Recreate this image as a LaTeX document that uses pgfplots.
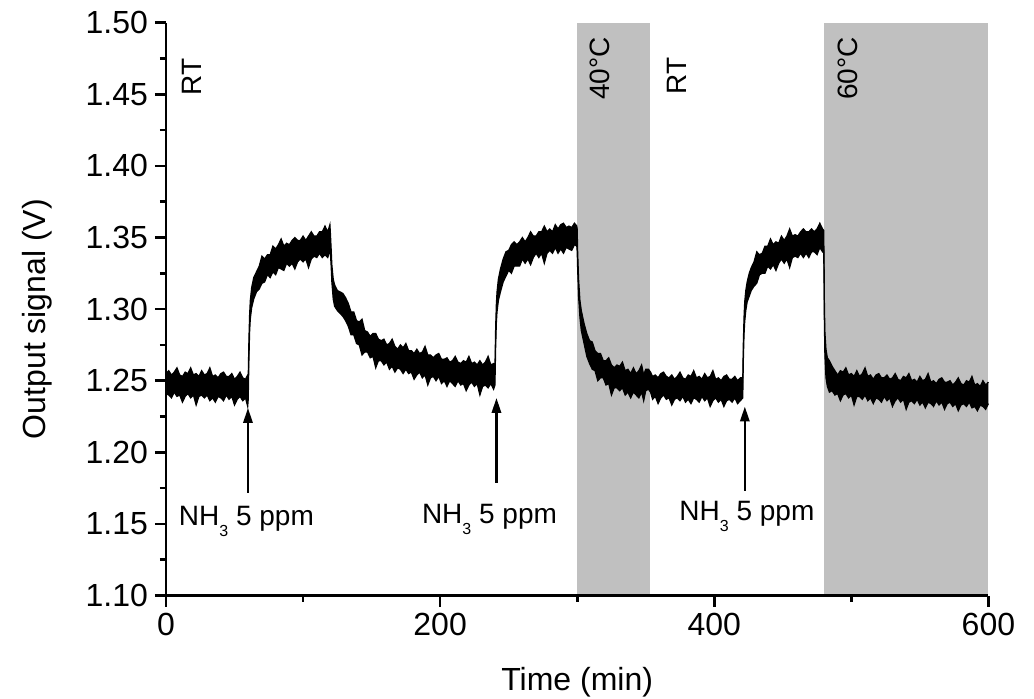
\documentclass[border=0pt]{standalone}
\usepackage{fontspec}
\setmainfont{Liberation Sans}
\usepackage{pgfplots}
\pgfplotsset{compat=1.18}
\usepackage{pgfplotstable}
\usepgfplotslibrary{fillbetween}
\usetikzlibrary{arrows.meta}
\definecolor{shade}{RGB}{192,192,192}
\pgfplotstableread{
t u l
0 1.255 1.241
2 1.257 1.240
4 1.254 1.238
6 1.256 1.242
8 1.259 1.239
10 1.254 1.240
12 1.253 1.235
14 1.256 1.239
16 1.255 1.241
18 1.259 1.238
20 1.254 1.240
22 1.255 1.233
24 1.253 1.239
26 1.257 1.240
28 1.254 1.238
30 1.255 1.240
32 1.259 1.236
34 1.253 1.238
36 1.254 1.235
38 1.252 1.239
40 1.255 1.238
42 1.256 1.236
44 1.253 1.240
46 1.253 1.237
48 1.255 1.239
50 1.251 1.233
52 1.253 1.237
54 1.256 1.239
56 1.252 1.236
58 1.251 1.238
59.6 1.254 1.232
60.0 1.253 1.237
60.5 1.279 1.265
61 1.296 1.284
61.5 1.306 1.293
62.5 1.315 1.301
64 1.322 1.307
66 1.326 1.312
68 1.330 1.314
70 1.337 1.318
72 1.335 1.319
74 1.338 1.324
76 1.338 1.322
78 1.344 1.326
80 1.342 1.324
82 1.345 1.329
84 1.349 1.328
86 1.344 1.327
88 1.346 1.332
90 1.345 1.330
92 1.348 1.332
94 1.350 1.328
96 1.348 1.333
98 1.348 1.335
100 1.351 1.333
102 1.348 1.335
104 1.351 1.329
106 1.354 1.335
108 1.351 1.337
110 1.351 1.336
112 1.354 1.339
114 1.354 1.336
116 1.358 1.338
118 1.354 1.336
119.6 1.359 1.341
120.0 1.352 1.338
120.5 1.342 1.330
121 1.331 1.319
122 1.321 1.307
123 1.317 1.302
125 1.313 1.299
127 1.312 1.297
129 1.311 1.295
131 1.308 1.292
133 1.304 1.288
135 1.298 1.282
137 1.298 1.282
139 1.292 1.276
141 1.291 1.275
143 1.293 1.268
145 1.285 1.270
147 1.284 1.270
149 1.281 1.266
151 1.283 1.267
153 1.283 1.259
155 1.279 1.264
157 1.278 1.264
159 1.279 1.261
161 1.275 1.263
163 1.276 1.258
165 1.279 1.260
167 1.274 1.256
169 1.272 1.259
171 1.275 1.258
173 1.273 1.255
175 1.276 1.258
177 1.271 1.255
179 1.271 1.256
181 1.269 1.251
183 1.272 1.254
185 1.269 1.256
187 1.270 1.252
189 1.274 1.254
191 1.268 1.247
193 1.268 1.252
195 1.266 1.253
197 1.268 1.250
199 1.269 1.253
201 1.265 1.248
203 1.265 1.250
205 1.266 1.246
207 1.263 1.250
209 1.264 1.248
211 1.267 1.246
213 1.263 1.250
215 1.262 1.247
217 1.264 1.248
219 1.263 1.243
221 1.267 1.247
223 1.262 1.249
225 1.263 1.246
227 1.261 1.248
229 1.264 1.240
231 1.261 1.246
233 1.263 1.247
235 1.267 1.245
237 1.261 1.248
239 1.262 1.244
239.7 1.261 1.246
240.0 1.260 1.247
240.5 1.287 1.273
241 1.303 1.290
241.5 1.312 1.298
242.5 1.321 1.306
244 1.328 1.312
246 1.335 1.319
248 1.340 1.323
250 1.341 1.327
252 1.345 1.325
254 1.347 1.330
256 1.345 1.330
258 1.347 1.330
260 1.350 1.335
262 1.347 1.332
264 1.350 1.335
266 1.354 1.331
268 1.351 1.336
270 1.351 1.339
272 1.354 1.336
274 1.354 1.339
276 1.358 1.332
278 1.354 1.339
280 1.356 1.341
282 1.354 1.339
284 1.359 1.343
286 1.356 1.339
288 1.359 1.342
290 1.360 1.339
292 1.357 1.343
294 1.358 1.342
296 1.357 1.341
298 1.360 1.345
299.7 1.358 1.344
300.0 1.356 1.340
300.3 1.341 1.329
301 1.321 1.309
302 1.306 1.294
303 1.299 1.285
305 1.290 1.276
307 1.283 1.267
309 1.278 1.262
311 1.277 1.258
313 1.271 1.257
315 1.269 1.250
317 1.269 1.252
319 1.264 1.252
321 1.264 1.247
323 1.266 1.248
325 1.261 1.240
327 1.259 1.245
329 1.261 1.245
331 1.260 1.243
333 1.263 1.245
335 1.257 1.240
337 1.258 1.242
339 1.255 1.238
341 1.259 1.242
343 1.255 1.240
345 1.257 1.238
347 1.261 1.242
348.5 1.254 1.236
350 1.258 1.243
352 1.258 1.244
353.5 1.256 1.242
355 1.253 1.237
357 1.254 1.239
359 1.252 1.234
361 1.255 1.238
363 1.256 1.240
365 1.253 1.237
367 1.252 1.238
369 1.254 1.233
371 1.251 1.237
373 1.253 1.238
375 1.256 1.236
377 1.252 1.239
379 1.251 1.235
381 1.254 1.237
383 1.253 1.234
385 1.257 1.238
387 1.252 1.237
389 1.253 1.235
391 1.251 1.239
393 1.255 1.236
395 1.252 1.238
397 1.253 1.232
399 1.257 1.236
401 1.251 1.238
403 1.252 1.235
405 1.250 1.237
407 1.253 1.232
409 1.254 1.236
411 1.251 1.237
413 1.251 1.235
415 1.253 1.238
417 1.250 1.234
419 1.252 1.236
420.8 1.252 1.238
421.2 1.276 1.264
421.7 1.294 1.282
422.2 1.305 1.291
423 1.313 1.299
424 1.319 1.305
425.5 1.325 1.309
427 1.329 1.313
429 1.333 1.316
431 1.340 1.318
433 1.338 1.324
435 1.339 1.325
437 1.344 1.325
439 1.344 1.330
441 1.349 1.328
443 1.345 1.331
445 1.347 1.327
447 1.346 1.332
449 1.351 1.335
451 1.348 1.332
453 1.351 1.335
455 1.356 1.329
457 1.351 1.336
459 1.352 1.337
461 1.351 1.336
463 1.354 1.339
465 1.356 1.336
467 1.354 1.339
469 1.354 1.336
471 1.356 1.340
473 1.354 1.340
475 1.356 1.338
477 1.360 1.343
479 1.356 1.340
479.8 1.355 1.341
480.1 1.337 1.322
480.3 1.307 1.293
480.7 1.284 1.268
481.5 1.272 1.252
482.5 1.266 1.246
484 1.264 1.242
486 1.260 1.243
488 1.257 1.240
490 1.254 1.241
492 1.257 1.236
494 1.256 1.240
496 1.259 1.241
498 1.254 1.238
500 1.255 1.240
502 1.253 1.233
504 1.257 1.239
506 1.253 1.239
508 1.255 1.237
510 1.259 1.240
512 1.253 1.236
514 1.254 1.238
516 1.251 1.234
518 1.254 1.238
520 1.255 1.237
522 1.252 1.235
524 1.252 1.239
526 1.254 1.236
528 1.251 1.238
530 1.252 1.232
532 1.255 1.236
534 1.251 1.238
536 1.250 1.235
538 1.253 1.237
540 1.252 1.230
542 1.255 1.235
544 1.250 1.236
546 1.251 1.234
548 1.249 1.237
550 1.253 1.233
552 1.250 1.235
554 1.251 1.231
556 1.255 1.235
558 1.249 1.234
560 1.250 1.232
562 1.248 1.236
564 1.251 1.233
566 1.252 1.235
568 1.249 1.230
570 1.249 1.234
572 1.250 1.235
574 1.247 1.232
576 1.249 1.234
578 1.252 1.229
580 1.248 1.233
582 1.247 1.234
584 1.250 1.232
586 1.249 1.235
588 1.253 1.231
590 1.247 1.232
592 1.248 1.229
594 1.246 1.233
596 1.250 1.232
598 1.247 1.230
600 1.249 1.234
}\sig
\begin{document}
\begin{tikzpicture}
\begin{axis}[
  scale only axis, width=411.2pt, height=286.4pt,
  xmin=0, xmax=600, ymin=1.10, ymax=1.50,
  axis lines*=left,
  axis line style={line width=1.3pt},
  xtick={0,200,400,600}, minor xtick={100,300,500},
  ytick={1.10,1.15,1.20,1.25,1.30,1.35,1.40,1.45,1.50},
  minor ytick={1.125,1.175,1.225,1.275,1.325,1.375,1.425,1.475},
  tick align=outside,
  major tick length=5.5pt, minor tick length=3pt,
  every tick/.append style={line width=1.3pt, black},
  /pgf/number format/assume math mode=true,
  tick label style={font=\fontsize{16}{19}\selectfont},
  yticklabel style={/pgf/number format/.cd, fixed, fixed zerofill, precision=2},
  xlabel={Time (min)}, ylabel={Output signal (V)},
  label style={font=\fontsize{16}{19}\selectfont},
  xlabel style={at={(axis description cs:0.5,0)}, anchor=base, yshift=-47.6pt, inner sep=0pt},
  ylabel style={at={(axis description cs:-0.1753,0.4827)}, anchor=north, inner sep=0pt},
  axis on top, clip=false,
]
\addplot[fill=shade, draw=none, forget plot] coordinates {(300,1.1) (300,1.5) (353,1.5) (353,1.1)} -- cycle;
\addplot[fill=shade, draw=none, forget plot] coordinates {(480,1.1) (480,1.5) (600,1.5) (600,1.1)} -- cycle;
\addplot[name path=U, draw=black, line width=0.6pt] table[x=t,y=u] {\sig};
\addplot[name path=L, draw=black, line width=0.6pt] table[x=t,y=l] {\sig};
\addplot[black] fill between[of=U and L, on layer=main];
\addplot[line width=1.3pt, -{Triangle[length=7.5pt,width=4.6pt]}] coordinates {(59.8,1.1718) (59.8,1.231)};
\addplot[line width=1.3pt, -{Triangle[length=7.5pt,width=4.6pt]}] coordinates {(241.1,1.1788) (241.1,1.238)};
\addplot[line width=1.3pt, -{Triangle[length=7.5pt,width=4.6pt]}] coordinates {(422.3,1.1732) (422.3,1.232)};
\node[rotate=90, anchor=west, inner sep=0pt, font=\fontsize{14}{17}\selectfont] at (axis cs:19,1.4488) {RT};
\node[rotate=90, anchor=west, inner sep=0pt, font=\fontsize{14}{17}\selectfont] at (axis cs:316.4,1.446) {40°C};
\node[rotate=90, anchor=west, inner sep=0pt, font=\fontsize{14}{17}\selectfont] at (axis cs:373,1.4495) {RT};
\node[rotate=90, anchor=west, inner sep=0pt, font=\fontsize{14}{17}\selectfont] at (axis cs:497.2,1.446) {60°C};
\node[anchor=base, inner sep=0pt, font=\fontsize{14}{17}\selectfont] at (axis cs:58.7,1.1492) {NH\raisebox{-5.5pt}{\fontsize{8}{8}\selectfont 3} 5 ppm};
\node[anchor=base, inner sep=0pt, font=\fontsize{14}{17}\selectfont] at (axis cs:236,1.1504) {NH\raisebox{-5.5pt}{\fontsize{8}{8}\selectfont 3} 5 ppm};
\node[anchor=base, inner sep=0pt, font=\fontsize{14}{17}\selectfont] at (axis cs:423.8,1.1527) {NH\raisebox{-5.5pt}{\fontsize{8}{8}\selectfont 3} 5 ppm};
\end{axis}
\pgfresetboundingbox
\path[use as bounding box] ([shift={(-83pt,-51.25pt)}]current axis.south west) rectangle ([shift={(434pt,297.75pt)}]current axis.south west);
\end{tikzpicture}
\end{document}
